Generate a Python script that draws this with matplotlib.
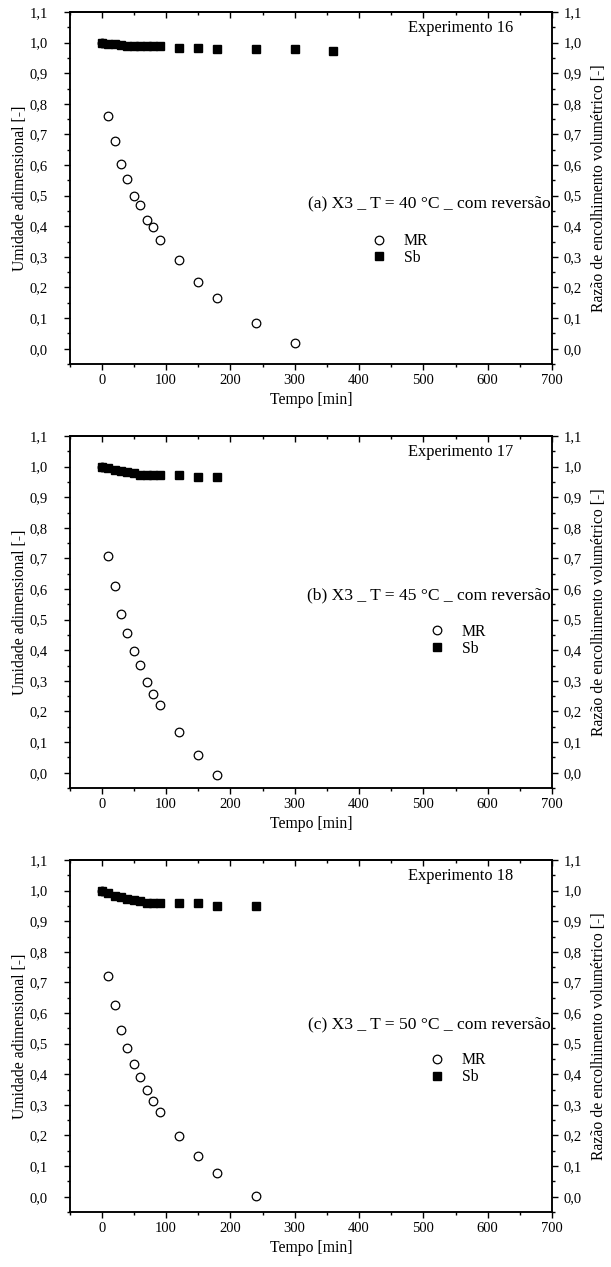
import matplotlib
matplotlib.use('Agg')
import matplotlib.pyplot as plt
from matplotlib.ticker import MultipleLocator, FuncFormatter
from matplotlib.lines import Line2D

plt.rcParams['font.family'] = ['Liberation Serif', 'DejaVu Serif']
plt.rcParams['font.size'] = 10

# === DATA ===
t_mr_16 = [0, 10, 20, 30, 40, 50, 60, 70, 80, 90, 120, 150, 180, 240, 300]
mr_16 = [1.0, 0.761, 0.680, 0.603, 0.555, 0.500, 0.471, 0.421, 0.396, 0.355,
         0.290, 0.217, 0.167, 0.084, 0.018]
t_sb_16 = [0, 10, 20, 30, 40, 50, 60, 70, 80, 90, 120, 150, 180, 240, 300, 360]
sb_16 = [1.0, 0.997, 0.994, 0.992, 0.989, 0.988, 0.988, 0.988, 0.988, 0.988,
         0.984, 0.984, 0.980, 0.980, 0.980, 0.974]

t_mr_17 = [0, 10, 20, 30, 40, 50, 60, 70, 80, 90, 120, 150, 180]
mr_17 = [1.0, 0.708, 0.610, 0.520, 0.458, 0.398, 0.351, 0.297, 0.258, 0.220,
         0.132, 0.059, -0.007]
t_sb_17 = [0, 10, 20, 30, 40, 50, 60, 70, 80, 90, 120, 150, 180]
sb_17 = [1.0, 0.994, 0.989, 0.987, 0.984, 0.980, 0.972, 0.972, 0.972, 0.972,
         0.972, 0.967, 0.967]

t_mr_18 = [0, 10, 20, 30, 40, 50, 60, 70, 80, 90, 120, 150, 180, 240]
mr_18 = [1.0, 0.722, 0.627, 0.545, 0.485, 0.433, 0.392, 0.348, 0.314, 0.276,
         0.198, 0.133, 0.079, 0.001]
t_sb_18 = [0, 10, 20, 30, 40, 50, 60, 70, 80, 90, 120, 150, 180, 240]
sb_18 = [1.0, 0.993, 0.983, 0.980, 0.974, 0.970, 0.965, 0.961, 0.959, 0.959,
         0.960, 0.958, 0.951, 0.951]

titles = ["Experimento 16", "Experimento 17", "Experimento 18"]
conditions = ["(a) X3 _ T = 40 °C _ com reversão",
              "(b) X3 _ T = 45 °C _ com reversão",
              "(c) X3 _ T = 50 °C _ com reversão"]

panels = [
    (t_mr_16, mr_16, t_sb_16, sb_16),
    (t_mr_17, mr_17, t_sb_17, sb_17),
    (t_mr_18, mr_18, t_sb_18, sb_18),
]

# layout (pixel based, fig 611x1267)
W, H = 611, 1267
tops = [12, 436, 860]
ax_h = 352
x_left, x_right = 69.5, 552
cond_y = [0.455, 0.548, 0.534]
leg_y = [0.325, 0.420, 0.407]
leg_x = [0.605, 0.725, 0.725]

comma = FuncFormatter(lambda v, p: f"{v:.1f}".replace('.', ','))

fig = plt.figure(figsize=(W / 100, H / 100), dpi=100)

for i, (tm, mr, ts, sb) in enumerate(panels):
    bottom = 1 - (tops[i] + ax_h) / H
    ax = fig.add_axes([x_left / W, bottom, (x_right - x_left) / W, ax_h / H])
    ax2 = ax.twinx()

    ax.plot(tm, mr, 'o', mfc='white', mec='black', ms=6.2, mew=0.9, zorder=2)
    ax2.plot(ts, sb, 's', mfc='black', mec='black', ms=5.6, zorder=3)

    for a in (ax, ax2):
        a.set_xlim(-50, 700)
        a.set_ylim(-0.05, 1.1)
        a.yaxis.set_major_locator(MultipleLocator(0.1))
        a.yaxis.set_minor_locator(MultipleLocator(0.05))
        a.yaxis.set_major_formatter(comma)
        for s in a.spines.values():
            s.set_linewidth(1.1)

    ax.xaxis.set_major_locator(MultipleLocator(100))
    ax.xaxis.set_minor_locator(MultipleLocator(50))
    ax.tick_params(axis='x', which='major', direction='out', length=4, width=1.0,
                   labelsize=10.5, top=False)
    ax.tick_params(axis='x', which='minor', direction='out', length=2.5, width=1.0, top=False)
    ax.tick_params(axis='y', which='major', direction='out', length=4.5, width=1.0,
                   labelsize=10.5, pad=11)
    ax.tick_params(axis='y', which='minor', direction='out', length=2.5, width=1.0)
    ax2.tick_params(axis='y', which='major', direction='out', length=4.5, width=1.0,
                    labelsize=10.5, pad=4)
    ax2.tick_params(axis='y', which='minor', direction='out', length=2.5, width=1.0)

    # top axis: inward ticks, no labels
    top = ax.secondary_xaxis('top')
    top.xaxis.set_major_locator(MultipleLocator(100))
    top.xaxis.set_minor_locator(MultipleLocator(50))
    top.tick_params(which='major', direction='in', length=4, width=1.0, labeltop=False)
    top.tick_params(which='minor', direction='in', length=2.5, width=1.0)
    top.spines['top'].set_linewidth(1.1)

    ax.set_xlabel("Tempo [min]", fontsize=11.3, labelpad=3)
    ax.set_ylabel("Umidade adimensional [-]", fontsize=11.3, labelpad=1)
    ax2.set_ylabel("Razão de encolhimento volumétrico [-]", fontsize=11.3, labelpad=6)

    ax.text(0.919, 0.955, titles[i], transform=ax.transAxes, ha='right', va='center',
            fontsize=11.8)
    ax.text(0.997, cond_y[i], conditions[i], transform=ax.transAxes, ha='right',
            va='center', fontsize=12.6)

    handles = [Line2D([], [], ls='none', marker='o', mfc='white', mec='black', ms=6.2, mew=0.9),
               Line2D([], [], ls='none', marker='s', mfc='black', mec='black', ms=5.6)]
    ax2.legend(handles, ["MR", "Sb"], loc='center left', bbox_to_anchor=(leg_x[i], leg_y[i]),
               frameon=False, fontsize=11.3, handlelength=1.2, handletextpad=1.0,
               labelspacing=0.05, borderpad=0)

fig.savefig("out.png", dpi=100)
